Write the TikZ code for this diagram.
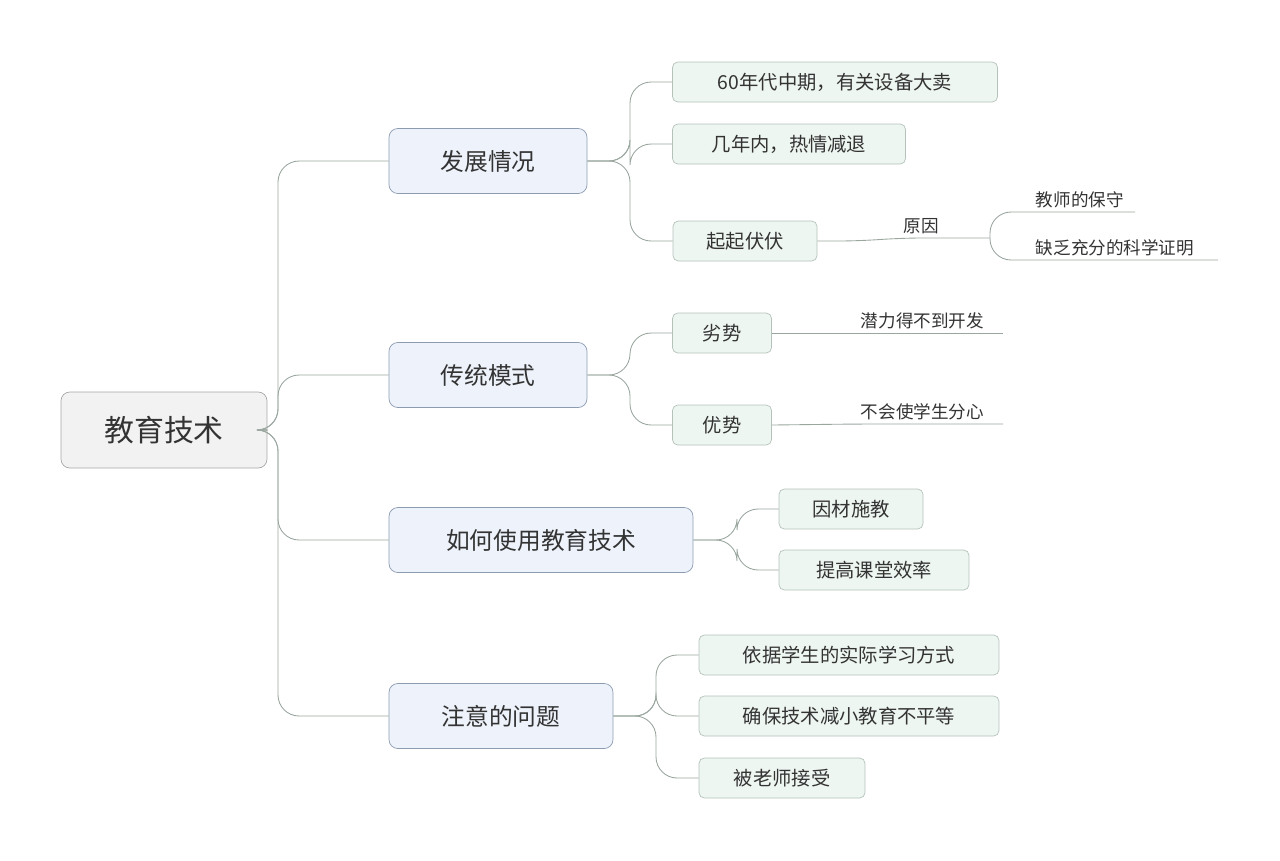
\documentclass[tikz,border=0pt]{standalone}
\usepackage{fontspec}
\setmainfont{Noto Sans CJK SC}
\definecolor{txt}{HTML}{333333}
\definecolor{rootfill}{HTML}{F2F2F2}
\definecolor{bluefill}{HTML}{EEF3FB}
\definecolor{blueline}{HTML}{8C9BB0}
\definecolor{greenfill}{HTML}{EEF6F1}
\definecolor{greenline}{HTML}{B5C2BA}
\definecolor{link}{HTML}{9AA79F}
\begin{document}
\begin{tikzpicture}[x=0.02cm,y=-0.02cm]
    \tikzset{
        topic/.style={draw=gray!70,fill=rootfill,rounded corners=5pt,minimum width=4.12cm,minimum height=1.52cm,text=txt,font=\fontsize{17}{20}\selectfont},
        main/.style={draw=blueline,fill=bluefill,rounded corners=5pt,minimum height=1.3cm,text=txt,font=\fontsize{13.5}{16}\selectfont},
        sub/.style={draw=greenline,fill=greenfill,rounded corners=3pt,minimum height=0.8cm,text=txt,font=\fontsize{11}{13}\selectfont},
        leaf/.style={anchor=south west,inner sep=2pt,text=txt,font=\fontsize{10}{12}\selectfont},
        line/.style={draw=link,line width=0.5pt,rounded corners=12pt},
    };
    \useasboundingbox (0,0) rectangle (1280,860);
    \node [topic] (jyjs) at (164,430) {教育技术};
    \node [main,minimum width=3.96cm] (fzqk) at (488,161) {发展情况};
    \node [main,minimum width=3.96cm] (ctms) at (488,375) {传统模式};
    \node [main,minimum width=6.08cm] (rhsy) at (541,540) {如何使用教育技术};
    \node [main,minimum width=4.48cm] (zywt) at (501,716) {注意的问题};

    \node [sub,minimum width=6.5cm] (sbdm) at (835,82) {60年代中期，有关设备大卖};
    \node [sub,minimum width=4.66cm] (rqjt) at (789,144) {几年内，热情减退};
    \node [sub,minimum width=2.88cm] (qqff) at (745,241) {起起伏伏};
    \node [sub,minimum width=1.98cm] (ls) at (722,333) {劣势};
    \node [sub,minimum width=1.98cm] (ys) at (722,425) {优势};
    \node [sub,minimum width=2.88cm] (ycsj) at (851,509) {因材施教};
    \node [sub,minimum width=3.8cm] (tgxl) at (874,570) {提高课堂效率};
    \node [sub,minimum width=6.0cm] (yjxs) at (849,655) {依据学生的实际学习方式};
    \node [sub,minimum width=6.0cm] (qbjs) at (849,716) {确保技术减小教育不平等};
    \node [sub,minimum width=3.32cm] (blsj) at (782,778) {被老师接受};

    \node [leaf] (yy) at (900,238) {原因};
    \node [leaf] (bs) at (1032,212) {教师的保守};
    \node [leaf] (zm) at (1032,260) {缺乏充分的科学证明};
    \node [leaf] (ql) at (857,333) {潜力得不到开发};
    \node [leaf] (fx) at (857,424) {不会使学生分心};
    \coordinate (yyend) at (990,238);
    \coordinate (bsend) at (1135,212);
    \coordinate (zmend) at (1218,260);
    \coordinate (qlend) at (1003,333);
    \coordinate (fxend) at (1003,424);

    % trunk
    \foreach \n in {fzqk,ctms,rhsy,zywt}
        \path [line] (jyjs.east) -- (278,430) |- (\n.west);
    % first branch
    \foreach \n in {sbdm,rqjt,qqff}
        \path [line] (fzqk.east) -- (630,161) |- (\n.west);
    \path [line] (qqff.east) -- (860,241) -- (yy.south west) -- (yyend);
    \foreach \n/\e in {bs/bsend,zm/zmend}
        \path [line] (yyend) |- (\n.south west) -- (\e);
    % second branch
    \foreach \n in {ls,ys}
        \path [line] (ctms.east) -- (630,375) |- (\n.west);
    \path [line] (ls.east) -- (ql.south west) -- (qlend);
    \path [line] (ys.east) -- (fx.south west) -- (fxend);
    % third branch
    \foreach \n in {ycsj,tgxl}
        \path [line] (rhsy.east) -- (737,540) |- (\n.west);
    % fourth branch
    \foreach \n in {yjxs,qbjs,blsj}
        \path [line] (zywt.east) -- (656,716) |- (\n.west);
\end{tikzpicture}
\end{document}
